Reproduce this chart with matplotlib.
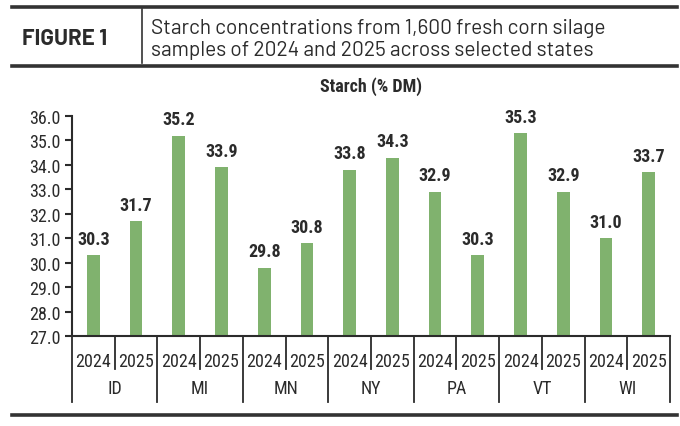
import matplotlib.pyplot as plt
from matplotlib.lines import Line2D

# data
states = ['ID', 'MI', 'MN', 'NY', 'PA', 'VT', 'WI']
years = ['2024', '2025']
starch_2024 = [30.3, 35.2, 29.8, 33.8, 32.9, 35.3, 31.0]
starch_2025 = [31.7, 33.9, 30.8, 34.3, 30.3, 32.9, 33.7]
y_ticks = [27, 28, 29, 30, 31, 32, 33, 34, 35, 36]

GREEN = '#80b26e'
DARK = '#2b2b2b'
NARROW = ['Roboto Condensed', 'DejaVu Sans']
HEAD = ['Barlow', 'Roboto', 'DejaVu Sans']

fig = plt.figure(figsize=(6.8, 4.27), dpi=100)
W, H = 680, 427

def fx(px):
    return px / W

def fy(py):
    return 1 - py / H

ax = fig.add_axes([fx(72), fy(337), fx(670) - fx(72), fy(117) - fy(337)])

# bars: two per state
n = len(states)
pos_24 = [2 * i + 0.5 for i in range(n)]
pos_25 = [2 * i + 1.5 for i in range(n)]
ax.bar(pos_24, starch_2024, width=0.3, color=GREEN)
ax.bar(pos_25, starch_2025, width=0.3, color=GREEN)

for x, v in zip(pos_24 + pos_25, starch_2024 + starch_2025):
    ax.text(x, v + 0.3, f'{v:.1f}', ha='center', va='bottom', fontsize=13,
            fontweight='bold', color=DARK, family=NARROW)

ax.set_xlim(0, 2 * n)
ax.set_ylim(27, 36)
ax.set_yticks(y_ticks)
ax.set_yticklabels([f'{t:.1f}' for t in y_ticks], family=NARROW, fontsize=13, color=DARK)
ax.set_xticks([])
ax.tick_params(axis='y', length=5, width=1.5, color=DARK, pad=3)
for s in ['top', 'right']:
    ax.spines[s].set_visible(False)
for s in ['left', 'bottom']:
    ax.spines[s].set_color(DARK)
    ax.spines[s].set_linewidth(1.5)

# category axis drawn below the plot, in data x / axes y
trans = ax.get_xaxis_transform()
y_year_sep = -(370 - 337) / 220
y_group_sep = -(403 - 337) / 220
for i in range(n + 1):
    ax.plot([2 * i, 2 * i], [0, y_group_sep], transform=trans, color=DARK,
            lw=1.3, clip_on=False)
for i in range(n):
    ax.plot([2 * i + 1, 2 * i + 1], [0, y_year_sep], transform=trans, color=DARK,
            lw=1.3, clip_on=False)
    for j, yr in enumerate(years):
        ax.text(2 * i + 0.5 + j, -(362 - 337) / 220, yr, transform=trans,
                ha='center', va='center', fontsize=13, color=DARK, family=NARROW)
    ax.text(2 * i + 1, -(389 - 337) / 220, states[i], transform=trans,
            ha='center', va='center', fontsize=13, color=DARK, family=NARROW)

# header and rules
for py in [8, 67, 416]:
    fig.add_artist(Line2D([fx(12), fx(677)], [fy(py), fy(py)], color='#333333', lw=2.6))
fig.add_artist(Line2D([fx(142), fx(142)], [fy(10), fy(64)], color='#333333', lw=1.2))
fig.text(fx(22), fy(39), 'FIGURE 1', fontsize=16, fontweight='bold', color=DARK,
         va='center', ha='left', family=HEAD)
fig.text(fx(151), fy(29), 'Starch concentrations from 1,600 fresh corn silage',
         fontsize=15, color=DARK, va='center', ha='left', family=HEAD)
fig.text(fx(151), fy(50), 'samples of 2024 and 2025 across selected states',
         fontsize=15, color=DARK, va='center', ha='left', family=HEAD)
fig.text(fx(371), fy(87), 'Starch (% DM)', fontsize=13, fontweight='bold', color=DARK,
         va='center', ha='center', family=NARROW)

fig.savefig('out.png', dpi=100)
